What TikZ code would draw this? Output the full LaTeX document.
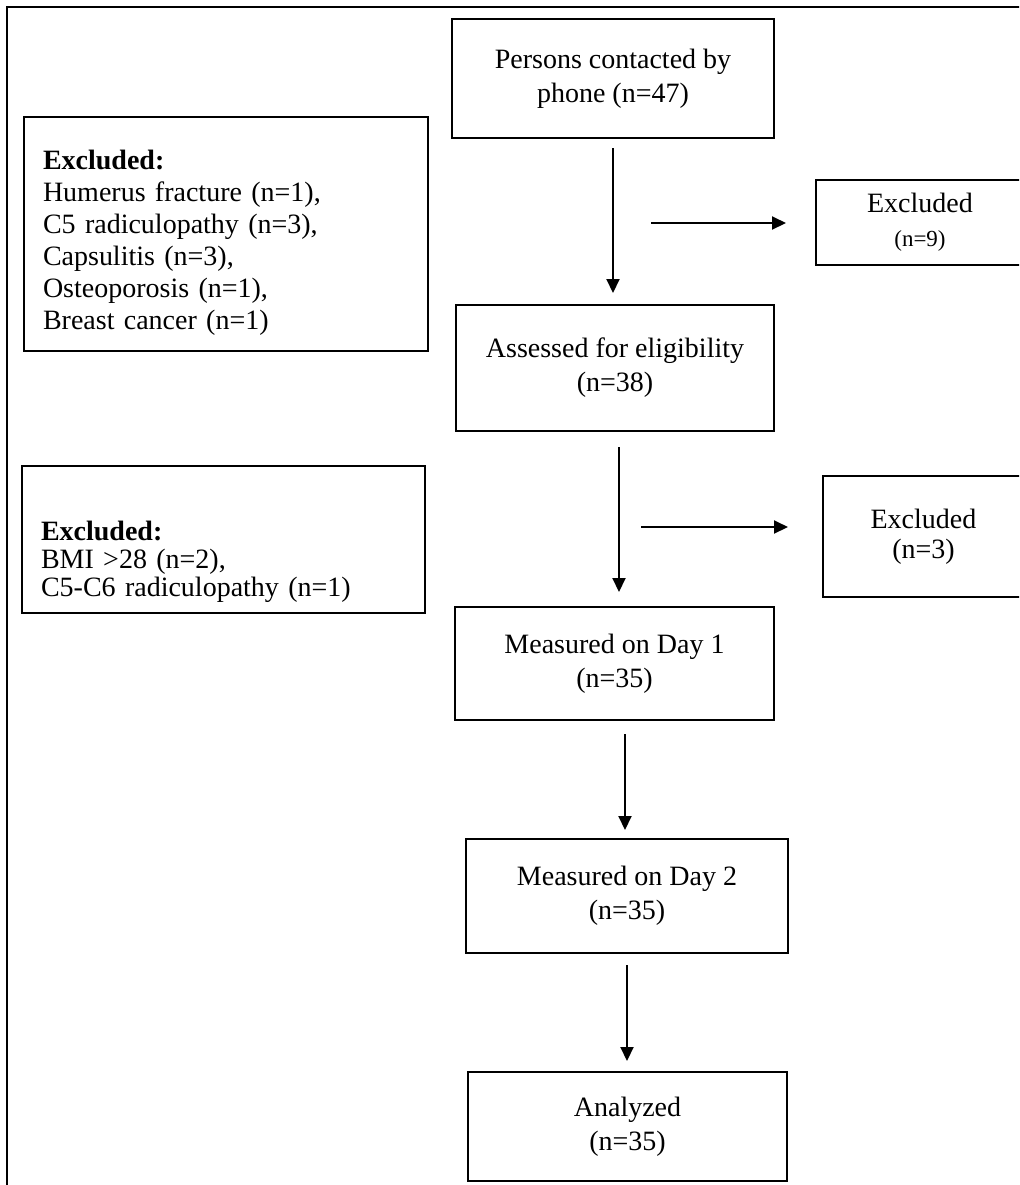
\documentclass[tikz,border=0pt]{standalone}
\usepackage{fontspec}
\setmainfont{Liberation Serif}
\usetikzlibrary{arrows.meta}
\usetikzlibrary{positioning}

\begin{document}
\begin{tikzpicture}[x=0.5pt, y=-0.5pt,
        box/.style={draw, line width=1pt, align=center, inner sep=2pt,
                    font=\fontsize{14}{17}\selectfont},
        listbox/.style={draw, line width=1pt, anchor=north west, align=left,
                    inner xsep=9.5pt, inner ysep=0pt},
        flowarrow/.style={line width=1pt, -{Triangle[length=7pt, width=6.5pt]}},
        frame/.style={line width=1.2pt}]
    % Page frame and crop
    \clip (0,0) rectangle (1019,1185);
    \draw[frame] (1040,7) -- (7,7) -- (7,1200);
    % Main flow
    \node[box, minimum width=161pt,   minimum height=59.5pt] (contact)  at (613.0,  78.5) {Persons contacted by\\phone (n=47)};
    \node[box, minimum width=159pt,   minimum height=63pt]   (assess)   at (615.0, 368.0) {Assessed for eligibility\\(n=38)};
    \node[box, minimum width=159.5pt, minimum height=56.5pt] (day1)     at (614.5, 663.5) {Measured on Day 1\\(n=35)};
    \node[box, minimum width=161pt,   minimum height=57pt]   (day2)     at (627.0, 896.0) {Measured on Day 2\\(n=35)};
    \node[box, minimum width=159.5pt, minimum height=54.5pt] (analyzed) at (627.5,1126.5) {Analyzed\\(n=35)};
    % Excluded, right side
    \node[box, minimum width=104pt,   minimum height=42.5pt] (exnine)   at (920.0, 222.5) {Excluded\\{\fontsize{11.5}{15.5}\selectfont (n=9)}};
    \node[box, minimum width=100.5pt, minimum height=60.5pt, font=\fontsize{14}{15}\selectfont]
                                                             (exthree)  at (923.5, 536.5) {Excluded\\(n=3)};
    % Excluded, left side
    \node[listbox, text width=183pt, minimum height=117pt, font=\fontsize{14}{16}\selectfont] (reasonsone) at (23,116)
        {\rule{0pt}{18pt}\textbf{Excluded:}\\Humerus fracture (n=1),\\C5 radiculopathy (n=3),\\Capsulitis (n=3),\\Osteoporosis (n=1),\\Breast cancer (n=1)};
    \node[listbox, text width=182.5pt, minimum height=73.5pt, font=\fontsize{14}{14}\selectfont] (reasonstwo) at (21,465)
        {\rule{0pt}{32.5pt}\textbf{Excluded:}\\BMI >28 (n=2),\\C5-C6 radiculopathy (n=1)};
    % Arrows down the main flow
    \draw[flowarrow, shorten <=4.5pt, shorten >=5.5pt] (contact.south) -- (contact.south |- assess.north);
    \draw[flowarrow, shorten <=7.5pt, shorten >=7pt] ([xshift=2pt]assess.south) -- ([xshift=2pt]assess.south |- day1.north);
    \draw[flowarrow, shorten <=6.5pt, shorten >=4pt] ([xshift=-1pt]day2.north |- day1.south) -- ([xshift=-1pt]day2.north);
    \draw[flowarrow, shorten <=5.5pt, shorten >=5pt] (day2.south) -- (day2.south |- analyzed.north);
    % Arrows out to the excluded boxes
    \coordinate (splitone) at (651,223);
    \coordinate (splittwo) at (641,527);
    \draw[flowarrow, shorten >=14.5pt] (splitone) -- (splitone -| exnine.west);
    \draw[flowarrow, shorten >=17pt] (splittwo) -- (splittwo -| exthree.west);
\end{tikzpicture}
\end{document}
